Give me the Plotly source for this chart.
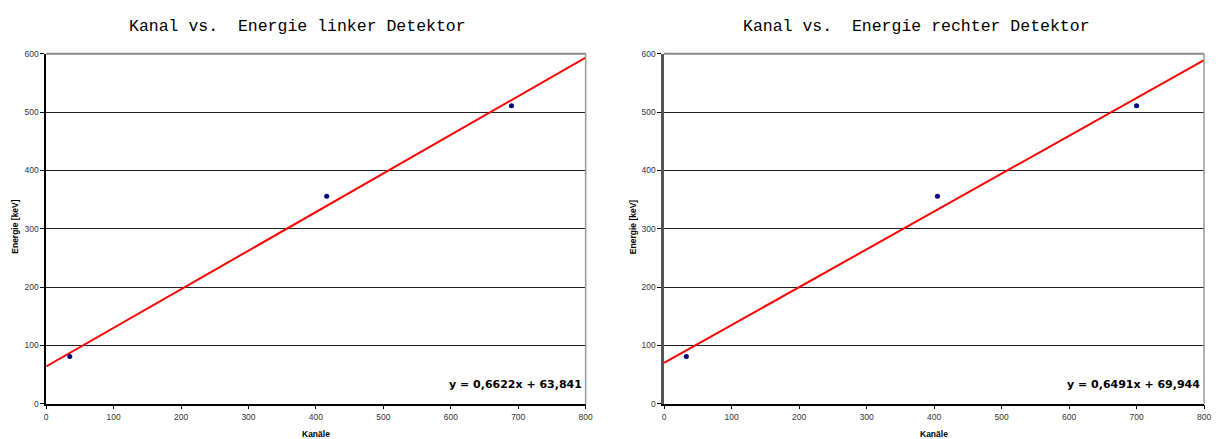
import plotly.graph_objects as go

# Calibration measurements: channel numbers and reference energies (keV)
kanal_links = [35, 416, 690]
energie_links = [81, 356, 511]
kanal_rechts = [33, 405, 700]
energie_rechts = [81, 356, 511]

# Linear fit parameters (slope, intercept) shown on each chart
fit_links = (0.6622, 63.841)
fit_rechts = (0.6491, 69.944)

x_range = [0, 800]
y_ticks = [0, 100, 200, 300, 400, 500, 600]
x_ticks = [0, 100, 200, 300, 400, 500, 600, 700, 800]

titles = ["Kanal vs.\u00a0\u00a0Energie linker Detektor",
          "Kanal vs.\u00a0\u00a0Energie rechter Detektor"]

W, H = 1218, 439
x_domains = [[44.5 / W, 588 / W], [667 / W, 1211 / W]]
y_domain = [(H - 408) / H, (H - 50) / H]

fig = go.Figure()

datasets = [(kanal_links, energie_links, fit_links),
            (kanal_rechts, energie_rechts, fit_rechts)]

for i, (kx, ey, (m, b)) in enumerate(datasets):
    xa = "x" if i == 0 else "x2"
    ya = "y" if i == 0 else "y2"
    fx = [x_range[0], x_range[1]]
    fy = [m * v + b for v in fx]
    fig.add_trace(go.Scatter(x=fx, y=fy, mode="lines",
                             line=dict(color="#ff0000", width=2),
                             xaxis=xa, yaxis=ya, showlegend=False))
    fig.add_trace(go.Scatter(x=kx, y=ey, mode="markers",
                             marker=dict(color="#000080", size=5),
                             xaxis=xa, yaxis=ya, showlegend=False))

tick_font = dict(family="Liberation Sans, Arial, sans-serif", size=8.5, color="#333")
axis_common = dict(tickfont=tick_font, ticks="outside", ticklen=4,
                   tickcolor="#000", tickwidth=1, zeroline=False)

for i in range(2):
    sfx = "" if i == 0 else "2"
    fig.update_layout(**{
        f"xaxis{sfx}": dict(domain=x_domains[i], range=x_range, tickvals=x_ticks,
                            showgrid=False, showline=True, linecolor="#000",
                            linewidth=1.5, anchor=f"y{sfx}", **axis_common),
        f"yaxis{sfx}": dict(domain=y_domain, range=[0, 600], tickvals=y_ticks,
                            showgrid=True, gridcolor="#222", gridwidth=1,
                            showline=True,
                            linecolor="#000" if i == 0 else "#555",
                            linewidth=1.5 if i == 0 else 2.5,
                            anchor=f"x{sfx}", **axis_common),
    })
    # Grey frame lines on the top and right of the plot area
    fig.add_shape(type="line", xref=f"x{sfx} domain", yref=f"y{sfx} domain",
                  x0=1, x1=1, y0=0, y1=1, line=dict(color="#999", width=1.5))
    fig.add_shape(type="line", xref=f"x{sfx} domain", yref=f"y{sfx} domain",
                  x0=0, x1=1, y0=1, y1=1, line=dict(color="#888", width=2),
                  layer="below")

    # Chart title
    cx = (x_domains[i][0] + x_domains[i][1]) / 2
    fig.add_annotation(text=titles[i], xref="paper", yref="paper",
                       x=[298 / W, 921 / W][i], y=(H - 22) / H,
                       showarrow=False, xanchor="center", yanchor="middle",
                       font=dict(family="Liberation Mono, DejaVu Sans Mono, monospace",
                                 size=16.5, color="#000"))
    # Axis titles
    fig.add_annotation(text="<b>Kanäle</b>", xref="paper", yref="paper",
                       x=cx, y=(H - 438.5) / H, showarrow=False,
                       xanchor="center", yanchor="middle",
                       font=dict(family="Liberation Sans, Arial, sans-serif",
                                 size=8.5, color="#000"))
    fig.add_annotation(text="<b>Energie [keV]</b>", xref="paper", yref="paper",
                       x=[13 / W, 636 / W][i], y=(H - 227) / H, textangle=-90,
                       showarrow=False, xanchor="center", yanchor="middle",
                       font=dict(family="Liberation Sans, Arial, sans-serif",
                                 size=8.5, color="#000"))
    # Fit equation
    m, b = datasets[i][2]
    eq = f"y = {m:.4f}x + {b:.3f}".replace(".", ",")
    fig.add_annotation(text=f"<b>{eq}</b>", xref="paper", yref="paper",
                       x=[586 / W, 1209 / W][i], y=(H - 388) / H,
                       showarrow=False, xanchor="right", yanchor="middle",
                       font=dict(family="DejaVu Sans, Verdana, sans-serif",
                                 size=11, color="#000"))

fig.update_layout(width=W, height=H, margin=dict(l=0, r=0, t=0, b=0),
                  paper_bgcolor="#fff", plot_bgcolor="#fff")

fig.write_html("out.html")
